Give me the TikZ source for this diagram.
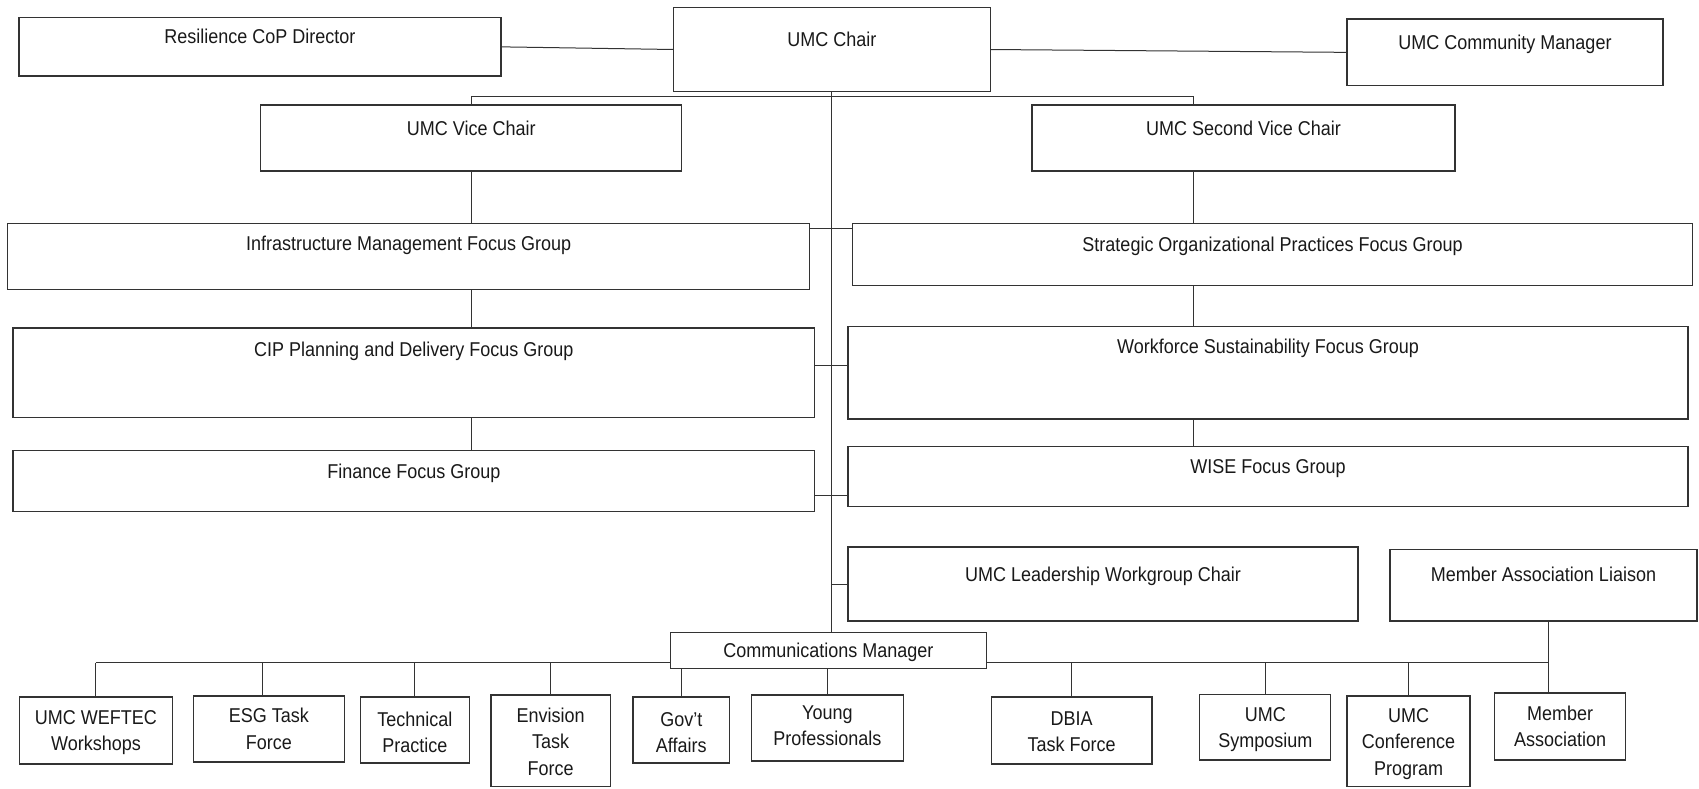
\documentclass[tikz,border=0pt]{standalone}
\usepackage{fontspec}
\setmainfont[FakeStretch=0.9]{Liberation Sans}
\newcommand\bx[5]{\node[box, minimum width={#4-#2}, minimum height={#5-#3}] (#1) at ({(#2+#4)/2},{(#3+#5)/2}) {};}
\newcommand\tx[3]{\node[lbl] (#1t) at (#1.center |- 0,#2) {#3};}
\begin{document}
\begin{tikzpicture}[x=1pt,y=-1pt,
  box/.style={draw=black!80, line width=1.3pt, rectangle, inner sep=0pt, outer sep=0pt},
  lbl/.style={inner sep=0pt, anchor=base, align=center, font=\fontsize{20}{26.5}\selectfont, text=black!90},
  conn/.style={draw=black!80, line width=1pt}]
\useasboundingbox (0,0) rectangle (1699,788);
% boxes
\bx{res}{19}{17.7}{501}{76}
\bx{chair}{673.7}{7.3}{990.2}{91.7}
\bx{cmgr}{1347}{19}{1663}{85.7}
\bx{vice}{260.7}{105}{681.8}{171}
\bx{svice}{1032}{105}{1455}{171}
\bx{infra}{7.6}{223.7}{809.8}{289.7}
\bx{sop}{852.7}{223.7}{1692.4}{285.7}
\bx{cip}{13}{328}{814.6}{417.7}
\bx{wsf}{848}{326.7}{1688}{419}
\bx{fin}{13}{450.7}{814.6}{511.7}
\bx{wise}{848}{446.7}{1688}{506.7}
\bx{ulwc}{848}{547}{1358}{621}
\bx{mal}{1390}{549.7}{1697}{621}
\bx{comm}{670.5}{632.7}{986.4}{668.3}
\bx{weftec}{19.5}{697}{172.4}{764}
\bx{esg}{193.5}{696}{344.2}{762}
\bx{tech}{360.4}{697}{469.4}{763}
\bx{env}{491}{695}{610.3}{786.5}
\bx{gov}{633}{697}{729.5}{763}
\bx{yp}{751.2}{695}{903.6}{761}
\bx{dbia}{991.3}{697}{1152}{764}
\bx{sym}{1199.7}{694.7}{1330.8}{760}
\bx{conf}{1347}{696}{1470}{786.5}
\bx{ma}{1494.3}{693}{1625.8}{760}
% labels (baseline of the last line)
\tx{res}{43.3}{Resilience CoP Director}
\tx{chair}{46.7}{UMC Chair}
\tx{cmgr}{49.3}{UMC Community Manager}
\tx{vice}{135}{UMC Vice Chair}
\tx{svice}{135}{UMC Second Vice Chair}
\tx{infra}{250.7}{Infrastructure Management Focus Group}
\tx{sop}{251.7}{Strategic Organizational Practices Focus Group}
\tx{cip}{356}{CIP Planning and Delivery Focus Group}
\tx{wsf}{353.3}{Workforce Sustainability Focus Group}
\tx{fin}{478.3}{Finance Focus Group}
\tx{wise}{473.3}{WISE Focus Group}
\tx{ulwc}{581}{UMC Leadership Workgroup Chair}
\tx{mal}{581.7}{Member Association Liaison}
\tx{comm}{657.3}{Communications Manager}
\tx{weftec}{750.7}{UMC WEFTEC\\Workshops}
\tx{esg}{749.3}{ESG Task\\Force}
\tx{tech}{752.7}{Technical\\Practice}
\tx{env}{775}{Envision\\Task\\Force}
\tx{gov}{752.7}{Gov’t\\Affairs}
\tx{yp}{745.7}{Young\\Professionals}
\tx{dbia}{751.7}{DBIA\\Task Force}
\tx{sym}{747.7}{UMC\\Symposium}
\tx{conf}{775}{UMC\\Conference\\Program}
\tx{ma}{746.7}{Member\\Association}
% connectors
\draw[conn] (res.east) -- (chair.west);
\draw[conn] (chair.east) -- (cmgr.west);
\coordinate (rj) at (1193,96);
\draw[conn] (vice.north) |- (rj) -- (rj |- svice.north);
\draw[conn] (chair.south) -- (chair.south |- comm.north);
\draw[conn] (vice.south) -- (vice.south |- infra.north);
\draw[conn] (vice.south |- infra.south) -- (vice.south |- cip.north);
\draw[conn] (vice.south |- cip.south) -- (vice.south |- fin.north);
\draw[conn] (rj |- svice.south) -- (rj |- sop.north);
\draw[conn] (rj |- sop.south) -- (rj |- wsf.north);
\draw[conn] (rj |- wsf.south) -- (rj |- wise.north);
\coordinate (s1) at ([yshift=-5pt]infra.north east);
\coordinate (s2) at ([yshift=7pt]cip.east);
\coordinate (s3) at ([yshift=-14.5pt]fin.east);
\draw[conn] (s1) -- (s1 -| sop.west);
\draw[conn] (s2) -- (s2 -| wsf.west);
\draw[conn] (s3) -- (s3 -| wise.west);
\draw[conn] (ulwc.west) -- (ulwc.west -| chair.south);
\coordinate (busL) at (weftec.north |- 0,662.7);
\coordinate (busR) at (1548.4,662.7);
\draw[conn] (busL) -- (busL -| comm.west);
\draw[conn] (comm.east |- busR) -- (busR);
\draw[conn] (busL) -- (weftec.north);
\coordinate (e1) at ([xshift=-6pt]esg.north);
\draw[conn] (e1 |- busL) -- (e1);
\draw[conn] (tech.north |- busL) -- (tech.north);
\draw[conn] (env.north |- busL) -- (env.north);
\draw[conn] (gov.north |- comm.south) -- (gov.north);
\draw[conn] (yp.north |- comm.south) -- (yp.north);
\draw[conn] (dbia.north |- busL) -- (dbia.north);
\draw[conn] (sym.north |- busL) -- (sym.north);
\draw[conn] (conf.north |- busL) -- (conf.north);
\coordinate (m1) at (busR |- mal.south);
\draw[conn] (m1) -- (m1 |- ma.north);
\end{tikzpicture}
\end{document}
